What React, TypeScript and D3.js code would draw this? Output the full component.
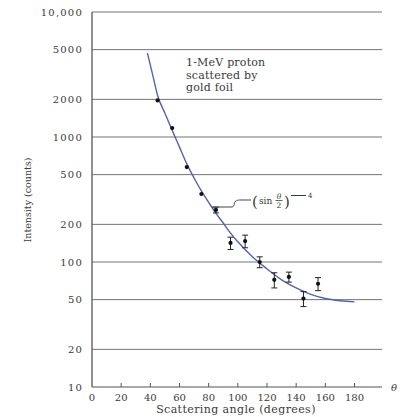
import React from "react";
import * as d3 from "d3";

const yTicks = [10, 20, 50, 100, 200, 500, 1000, 2000, 5000, 10000];
const yTickLabels = ["10", "20", "50", "100", "200", "500", "1000", "2000", "5000", "10,000"];
const xTicks = [0, 20, 40, 60, 80, 100, 120, 140, 160, 180];

const pointAngles = [45, 55, 65, 75, 85, 95, 105, 115, 125, 135, 145, 155];
const pointCounts = [1960, 1180, 575, 350, 261, 142, 147, 100, 72, 76, 51, 67];
const pointErrors = [0, 0, 0, 0, 14, 16, 17, 10, 10, 7, 7, 8];

const curveAngles = [38, 42, 45, 50, 55, 60, 65, 70, 75, 80, 85, 90, 95, 100, 110, 120, 130, 140, 150, 160, 170, 180];
const curveCounts = [4700, 3000, 2150, 1550, 1130, 830, 610, 470, 370, 300, 245, 205, 170, 145, 110, 88, 72, 62, 55, 51, 49, 48];

const annotationLines = ["1-MeV proton", "scattered by", "gold foil"];

const W = 400;
const H = 417;
const serif = "'DejaVu Serif', 'Liberation Serif', serif";

export default function App() {
  const x = d3.scaleLinear().domain([0, 180]).range([92, 354.5]);
  const y = d3.scaleLog().domain([10, 10000]).range([387, 12]);
  const x0 = x(0);
  const y0 = y(10);

  const line = d3
    .line<number>()
    .x((d, i) => x(curveAngles[i]))
    .y((d) => y(d))
    .curve(d3.curveMonotoneX);

  const textColor = "#3a3a3a";
  const gridColor = "#747474";

  return (
    <svg
      width={W}
      height={H}
      style={{ position: "absolute", left: 0, top: 0, background: "#fff" }}
    >
      {yTicks.slice(1).map((t) => (
        <line key={"g" + t} x1={x0} x2={382} y1={y(t)} y2={y(t)} stroke={gridColor} strokeWidth={1} />
      ))}
      <line x1={x0} x2={x0} y1={y(10000)} y2={y0} stroke="#555" strokeWidth={1.3} />
      <line x1={x0} x2={382} y1={y0} y2={y0} stroke="#555" strokeWidth={1.1} />
      {xTicks.slice(1).map((t) => (
        <line key={"xt" + t} x1={x(t)} x2={x(t)} y1={y0} y2={y0 - 4} stroke="#555" strokeWidth={1} />
      ))}
      {yTicks.map((t, i) => (
        <text
          key={"yl" + t}
          x={83}
          y={y(t) + 3.5}
          textAnchor="end"
          fontFamily={serif}
          fontSize={10}
          letterSpacing={1.2}
          fill={textColor}
        >
          {yTickLabels[i]}
        </text>
      ))}
      {xTicks.map((t) => (
        <text
          key={"xl" + t}
          x={x(t)}
          y={401}
          textAnchor="middle"
          fontFamily={serif}
          fontSize={10}
          fill={textColor}
        >
          {t}
        </text>
      ))}
      <text x={391} y={391} fontFamily={serif} fontSize={10} fontStyle="italic" fill={textColor}>
        θ
      </text>
      <text
        x={236}
        y={413}
        textAnchor="middle"
        fontFamily={serif}
        fontSize={11}
        letterSpacing={0.4}
        fill={textColor}
      >
        Scattering angle (degrees)
      </text>
      <text
        transform={`translate(31,200) rotate(-90)`}
        textAnchor="middle"
        fontFamily={serif}
        fontSize={9.5}
        fill={textColor}
      >
        Intensity (counts)
      </text>

      <path d={line(curveCounts) || ""} fill="none" stroke="#5464a8" strokeWidth={1.4} />

      {pointAngles.map((a, i) => {
        const cx = x(a);
        const cy = y(pointCounts[i]);
        const e = pointErrors[i];
        return (
          <g key={"p" + a}>
            {e > 0 && (
              <g stroke="#222" strokeWidth={1}>
                <line x1={cx} x2={cx} y1={y(pointCounts[i] + e)} y2={y(pointCounts[i] - e)} />
                <line x1={cx - 3} x2={cx + 3} y1={y(pointCounts[i] + e)} y2={y(pointCounts[i] + e)} />
                <line x1={cx - 3} x2={cx + 3} y1={y(pointCounts[i] - e)} y2={y(pointCounts[i] - e)} />
              </g>
            )}
            <circle cx={cx} cy={cy} r={2.1} fill="#111" />
          </g>
        );
      })}

      {annotationLines.map((s, i) => (
        <text
          key={"a" + i}
          x={186}
          y={66 + i * 12.5}
          fontFamily={serif}
          fontSize={11}
          letterSpacing={0.2}
          fill={textColor}
        >
          {s}
        </text>
      ))}

      <path
        d="M212,207 L231,207 C236,207 233,202 236,201 C238,200 238,200 242,200 L251,200"
        fill="none"
        stroke="#444"
        strokeWidth={1}
      />
      <g fontFamily={serif} fill={textColor}>
        <text x={252} y={207} fontSize={15}>(</text>
        <text x={259} y={204} fontSize={9}>sin</text>
        <text x={279} y={199} fontSize={7.5} fontStyle="italic" textAnchor="middle">θ</text>
        <line x1={275.5} x2={282.5} y1={200.5} y2={200.5} stroke={textColor} strokeWidth={0.8} />
        <text x={279} y={207.5} fontSize={7.5} textAnchor="middle">2</text>
        <text x={284} y={207} fontSize={15}>)</text>
        <line x1={291} x2={306} y1={195.5} y2={195.5} stroke={textColor} strokeWidth={1} />
        <text x={308} y={198} fontSize={7}>4</text>
      </g>
    </svg>
  );
}
